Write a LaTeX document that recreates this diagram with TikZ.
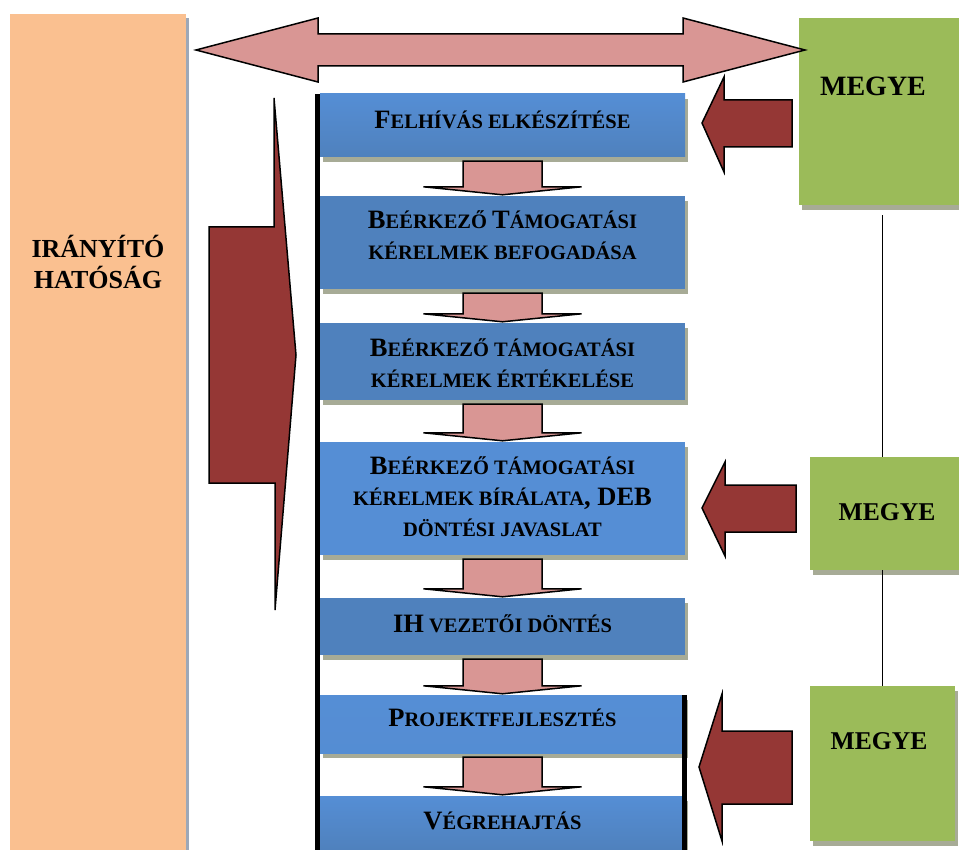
\documentclass[tikz,border=0pt]{standalone}
\usepackage{fontspec}
\setmainfont{Liberation Serif}
\usetikzlibrary{calc,shadows}
\definecolor{orangec}{HTML}{FAC090}
\definecolor{pinkc}{HTML}{D99694}
\definecolor{darkred}{HTML}{953735}
\definecolor{greenc}{HTML}{9BBB59}
\definecolor{blueA}{HTML}{4F81BD}
\definecolor{blueB}{HTML}{558ED5}
\definecolor{shadowc}{HTML}{A7AB96}
\definecolor{shadowb}{HTML}{9DA8B8}
\newcommand\BC[1]{{\fontsize{26.5}{31}\selectfont #1}}
\begin{document}
\begin{tikzpicture}[x=1pt,y=-1pt,
  box/.style={draw=none, inner sep=0pt, minimum width=365pt,
    drop shadow={shadow xshift=3pt, shadow yshift=-5pt, fill=shadowc, opacity=1}},
  boxtext/.style={inner sep=0pt, align=center, font=\bfseries\fontsize{20.5}{31}\selectfont},
  megye/.style={draw=none, inner sep=0pt, fill=greenc,
    drop shadow={shadow xshift=3pt, shadow yshift=-5pt, fill=shadowc, opacity=1}},
  megyetext/.style={inner sep=0pt, font=\bfseries\fontsize{25.6}{30}\selectfont},
  pinkarr/.style={draw=black, line width=1.5pt, fill=pinkc, line join=miter},
  redarr/.style={draw=black, line width=1.5pt, fill=darkred, line join=miter},
  vline/.style={draw=black, line width=5pt},
  conn/.style={draw=black, line width=1.2pt}]
\useasboundingbox (0,0) rectangle (959,850);
\fill[white] (0,0) rectangle (959,850);

% left orange block
\node[draw=none, inner sep=0pt, fill=orangec, minimum width=176pt, minimum height=836pt,
  drop shadow={shadow xshift=3pt, shadow yshift=-4pt, fill=shadowb, opacity=1}] (ih) at (98,432) {};
\node[inner sep=0pt, align=center, font=\bfseries\fontsize{26}{31}\selectfont] (iht) at (98,261.5) {IRÁNYÍTÓ\\HATÓSÁG};

% green MEGYE blocks
\node[megye, minimum width=160pt, minimum height=187pt] (m1) at (879,111.5) {};
\node[megyetext, font=\bfseries\fontsize{28}{30}\selectfont] (m1t) at (873,86.5) {MEGYE};
\node[megye, minimum width=149pt, minimum height=113pt] (m2) at (884.5,513.5) {};
\node[megyetext] (m2t) at (887,512) {MEGYE};
\node[megye, minimum width=145pt, minimum height=155pt] (m3) at (882.5,763.5) {};
\node[megyetext] (m3t) at (879,741) {MEGYE};

% connector between MEGYE blocks
\draw[conn] ([yshift=-10pt]m1.south -| m3.north) -- (m2.north -| m3.north);
\draw[conn] (m2.south -| m3.north) -- (m3.north);

% big double arrow
\draw[pinkarr] (196,50) -- (318,18) -- (318,34) -- (683,34) -- (683,18) -- (805,50)
  -- (683,82) -- (683,66) -- (318,66) -- (318,82) -- cycle;

% process boxes
\node[box, minimum height=63pt, top color=blueB, bottom color=blueA] (b1) at (502.5,125.5) {};
\node[box, minimum height=93pt, fill=blueA] (b2) at (502.5,242.5) {};
\node[box, minimum height=77pt, fill=blueA] (b3) at (502.5,361.5) {};
\node[box, minimum height=113pt, fill=blueB] (b4) at (502.5,498.5) {};
\node[box, minimum height=57pt, fill=blueA] (b5) at (502.5,626.5) {};
\node[box, minimum height=58pt, top color=blueB, bottom color=blueB!90!blueA] (b6) at (502.5,724) {};
\node[box, minimum height=54pt, top color=blueB, bottom color=blueA] (b7) at (502.5,823) {};

\node[boxtext] (b1t) at (502.5,120) {\BC{F}ELHÍVÁS ELKÉSZÍTÉSE};
\node[boxtext] (b2t) at (502.5,235) {\BC{B}EÉRKEZŐ \BC{T}ÁMOGATÁSI\\KÉRELMEK BEFOGADÁSA};
\node[boxtext] (b3t) at (502.5,363) {\BC{B}EÉRKEZŐ TÁMOGATÁSI\\KÉRELMEK ÉRTÉKELÉSE};
\node[boxtext] (b4t) at (502.5,497) {\BC{B}EÉRKEZŐ TÁMOGATÁSI\\KÉRELMEK BÍRÁLATA\BC{, DEB}\\DÖNTÉSI JAVASLAT};
\node[boxtext] (b5t) at (502.5,623.5) {\BC{IH} VEZETŐI DÖNTÉS};
\node[boxtext] (b6t) at (502.5,718) {\BC{P}ROJEKTFEJLESZTÉS};
\node[boxtext] (b7t) at (502.5,821) {\BC{V}ÉGREHAJTÁS};

% thick vertical lines
\draw[vline] ([xshift=-2.5pt]b1.north west) -- ([xshift=-2.5pt]b7.south west);
\draw[vline] ([xshift=-0.5pt]b6.north east) -- ([xshift=-0.5pt]b7.south east);

% pink down arrows between boxes
\newcommand\pinkdown[2]{\draw[pinkarr] ($(#1.south)+(-39.5,4)$) -- ($(#1.south)+(39.5,4)$)
  -- ($(#2.north)+(39.5,-9)$) -- ($(#2.north)+(79,-9)$) -- ($(#2.north)+(0,-1)$)
  -- ($(#2.north)+(-79,-9)$) -- ($(#2.north)+(-39.5,-9)$) -- cycle;}
\pinkdown{b1}{b2}
\pinkdown{b2}{b3}
\pinkdown{b3}{b4}
\pinkdown{b4}{b5}
\pinkdown{b5}{b6}
\pinkdown{b6}{b7}

% dark red arrows
\draw[redarr] (209,227) -- (274,227) -- (274,98) -- (296,355) -- (275,610) -- (275,483) -- (209,483) -- cycle;
\draw[redarr] (702,123) -- (724,77) -- (724,100) -- (792,100) -- (792,147) -- (724,147) -- (724,172) -- cycle;
\draw[redarr] (702,508) -- (725,462) -- (725,485) -- (796,485) -- (796,532) -- (725,532) -- (725,556) -- cycle;
\draw[redarr] (699,767) -- (722,694) -- (722,731) -- (792,731) -- (792,804) -- (722,804) -- (722,841) -- cycle;
\end{tikzpicture}
\end{document}
